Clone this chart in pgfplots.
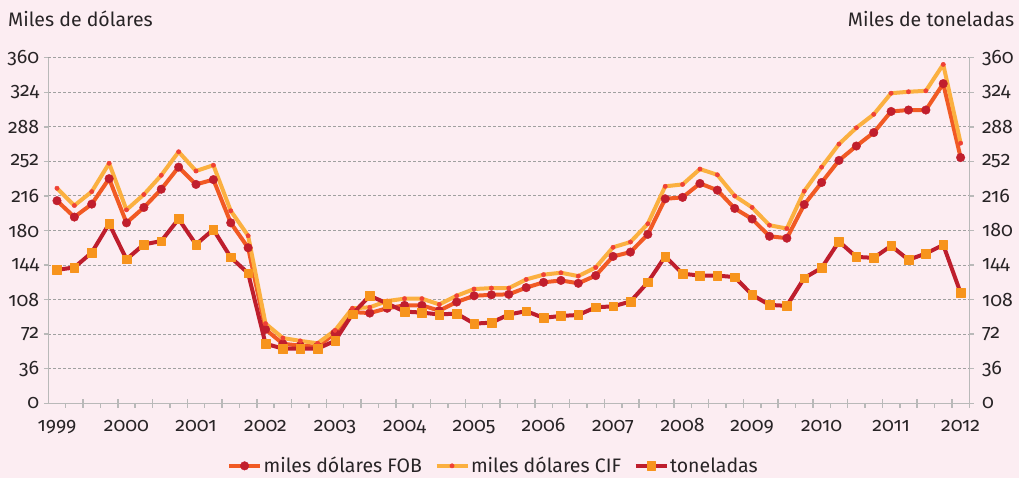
\documentclass[border=0pt]{standalone}
\usepackage{pgfplots}
\pgfplotsset{compat=1.18}
\usepackage{pgfplotstable}
\usepackage{fontspec}
\setmainfont{Fira Sans}[Numbers=OldStyle]

\definecolor{bg}{RGB}{252,237,242}
\definecolor{txt}{RGB}{40,36,38}
\definecolor{gridc}{RGB}{160,160,160}
\definecolor{axc}{RGB}{185,185,185}
\definecolor{fobline}{RGB}{241,90,36}
\definecolor{fobmark}{RGB}{193,30,45}
\definecolor{cifline}{RGB}{251,176,64}
\definecolor{cifmark}{RGB}{239,65,54}
\definecolor{tonline}{RGB}{190,30,45}
\definecolor{tonmark}{RGB}{247,148,29}

\pgfplotstableread{
x fob cif ton
0 211 224 139
1 194 206 141.5
2 207.5 220.5 157
3 234 250 187
4 188 201.5 150
5 204 217.5 165.5
6 223 237.5 169
7 246 262 192
8 228 242 165.5
9 233 248 181
10 188 200.5 152
11 162 174.5 135.5
12 77 83 62
13 62 68 57
14 60 65 57
15 59 62.5 57
16 73 76 65
17 95 99 93
18 94 100 112
19 99 106.5 104
20 102 109 95.5
21 102 109 94.5
22 96.5 103 92.5
23 105.5 112 93.5
24 112 119 83
25 113 120 84
26 113.5 120 92.5
27 120.5 129 96
28 126 134 89
29 128 136 91
30 125 132.5 92
31 133 141.5 100
32 153 162.5 101
33 157.5 168 106
34 176 187 126
35 213 226 153
36 214.5 228 135
37 229 244 133
38 222 238 133
39 203 216 131.5
40 192 204 113
41 174 185.5 102.5
42 172 182 101.5
43 207 221 130.5
44 230 246 141
45 253 270 168.5
46 268 287 152.5
47 282 301 151.5
48 304 323 164
49 305.5 324.5 149.5
50 305.5 325.5 156
51 333 353 165
52 256 271 115
}\datatable

\begin{document}
\begin{tikzpicture}[font=\fontsize{19.5}{22}\selectfont, text=txt]
\fill[bg] (-48.3pt,-74.7pt) rectangle (970.7pt,403.3pt);
% main axis
\begin{axis}[
  at={(0pt,0pt)}, anchor=south west,
  scale only axis, width=921pt, height=345.6pt,
  xmin=-0.5, xmax=52.5, ymin=0, ymax=360,
  clip=false,
  axis x line*=bottom, axis y line*=left,
  axis line style={-, draw=axc, line width=1.5pt},
  tick align=outside,
  major tick length=4.5pt,
  ytick={0,36,...,360},
  ytick style={draw=axc, line width=1.5pt},
  yticklabel style={anchor=east, inner sep=0pt, xshift=-4.5pt},
  xtick={0,4,...,52},
  xticklabels={1999,2000,2001,2002,2003,2004,2005,2006,2007,2008,2009,2010,2011,2012},
  xtick style={draw=none},
  xticklabel style={anchor=base, inner sep=0pt, yshift=-24pt},
  /pgf/number format/assume math mode=true,
  tick label style={font=\fontsize{19.5}{22}\selectfont, text=txt},
  ymajorgrids,
  major grid style={draw=gridc, line width=1pt, dash pattern=on 3pt off 2pt},
  legend columns=3,
  legend style={draw=none, fill=none, at={(0.483,-0.181)}, anchor=center,
    font=\fontsize{19.5}{22}\selectfont, text=txt,
    nodes={inner xsep=1.5pt, inner ysep=1pt},
    /tikz/every even column/.append style={column sep=11pt}},
  legend image code/.code={\draw[mark repeat=2,mark phase=2,#1] plot coordinates {(0pt,0pt) (15.5pt,0pt) (31pt,0pt)};},
  every axis plot/.append style={line width=4pt, line join=round},
]
\addplot[color=fobline, mark=*, mark size=4.3pt, mark options={fill=fobmark, draw=fobmark, line width=0.4pt}] table[x=x, y=fob] {\datatable};
\addlegendentry{miles dólares FOB}
\addplot[color=cifline, mark=*, mark size=2.2pt, mark options={fill=cifmark, draw=cifmark, line width=0.4pt}] table[x=x, y=cif] {\datatable};
\addlegendentry{miles dólares CIF}
\addplot[color=tonline, mark=square*, mark size=4.3pt, mark options={fill=tonmark, draw=tonmark, line width=0.4pt}] table[x=x, y=ton] {\datatable};
\addlegendentry{toneladas}
\end{axis}
% right axis + short x ticks
\begin{axis}[
  at={(0pt,0pt)}, anchor=south west,
  scale only axis, width=921pt, height=345.6pt,
  xmin=-0.5, xmax=52.5, ymin=0, ymax=360,
  axis x line*=bottom, axis y line*=right,
  axis line style={-, draw=axc, line width=1.5pt},
  tick align=outside,
  major tick length=4.5pt,
  ytick={0,36,...,360},
  tick style={draw=axc, line width=1.5pt},
  yticklabel style={anchor=west, inner sep=0pt, xshift=8pt},
  xtick={0.5,1.5,...,52.5},
  xticklabels={},
  /pgf/number format/assume math mode=true,
  tick label style={font=\fontsize{19.5}{22}\selectfont, text=txt},
]
\end{axis}
% tall x ticks
\begin{axis}[
  at={(0pt,0pt)}, anchor=south west,
  scale only axis, width=921pt, height=345.6pt,
  xmin=-0.5, xmax=52.5, ymin=0, ymax=360,
  axis x line*=bottom, axis y line=none,
  axis line style={-, draw=axc, line width=1.5pt},
  tick align=center,
  major tick length=9pt,
  xtick={1.5,3.5,...,51.5},
  xticklabels={},
  tick style={draw=axc, line width=1.5pt},
]
\end{axis}
\node[anchor=base west, inner sep=0pt] at (-40.3pt,376.6pt) {Miles de dólares};
\node[anchor=base east, inner sep=0pt] at (966pt,376.6pt) {Miles de toneladas};
\end{tikzpicture}
\end{document}
